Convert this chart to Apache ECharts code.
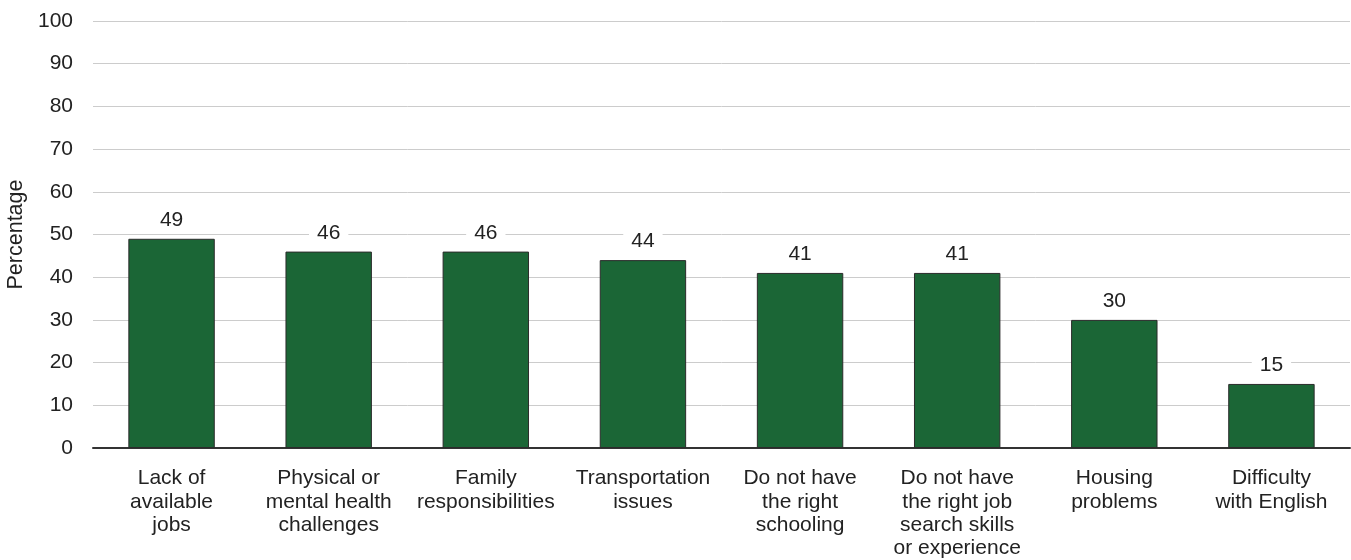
<!DOCTYPE html>
<html>
<head>
<meta charset="utf-8">
<script src="https://cdn.jsdelivr.net/npm/echarts@6/dist/echarts.min.js"></script>
<style>
  html, body { margin: 0; padding: 0; background: #fff; }
  #chart { width: 1351px; height: 560px; }
</style>
</head>
<body>
<div id="chart"></div>
<script>
// Reasons reported as barriers to employment (percentage)
const categories = [
  'Lack of\navailable\njobs',
  'Physical or\nmental health\nchallenges',
  'Family\nresponsibilities',
  'Transportation\nissues',
  'Do not have\nthe right\nschooling',
  'Do not have\nthe right job\nsearch skills\nor experience',
  'Housing\nproblems',
  'Difficulty\nwith English'
];
const values = [49, 46, 46, 44, 41, 41, 30, 15];
const yTicks = { min: 0, max: 100, interval: 10 };
const yAxisTitle = 'Percentage';

const chart = echarts.init(document.getElementById('chart'), null, { renderer: 'canvas' });
const font = 'Arial, "Liberation Sans", Helvetica, sans-serif';

chart.setOption({
  animation: false,
  backgroundColor: '#ffffff',
  grid: { left: 93, right: 1, top: 21, bottom: 112, containLabel: false, outerBoundsMode: 'none' },
  xAxis: {
    type: 'category',
    data: categories,
    axisTick: { show: false },
    axisLine: { show: true, lineStyle: { color: '#333333', width: 2 } },
    axisLabel: {
      interval: 0,
      color: '#222222',
      fontFamily: font,
      fontSize: 21,
      lineHeight: 23.3,
      margin: 19
    }
  },
  yAxis: {
    type: 'value',
    min: yTicks.min,
    max: yTicks.max,
    interval: yTicks.interval,
    name: yAxisTitle,
    nameLocation: 'middle',
    nameRotate: 90,
    nameGap: 61,
    nameTextStyle: { color: '#222222', fontFamily: font, fontSize: 21.5 },
    axisLine: { show: false },
    axisTick: { show: false },
    axisLabel: { color: '#222222', fontFamily: font, fontSize: 21, margin: 20 },
    splitLine: { lineStyle: { color: '#cccccc', width: 1 } }
  },
  series: [{
    type: 'bar',
    data: values,
    barWidth: '55%',
    itemStyle: { color: '#1b6636', borderColor: '#2b2b2b', borderWidth: 1 },
    label: {
      show: true,
      position: 'top',
      distance: 8,
      color: '#222222',
      fontFamily: font,
      fontSize: 21,
      backgroundColor: '#ffffff',
      padding: [0, 8, 0, 8]
    }
  }]
});
</script>
</body>
</html>
